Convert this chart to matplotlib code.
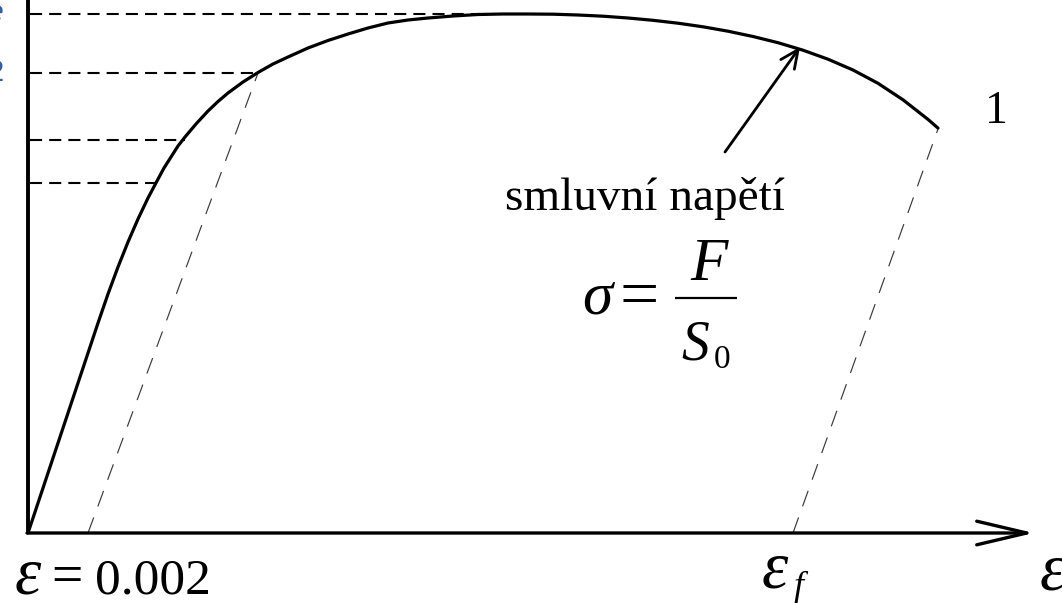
import matplotlib
matplotlib.use("Agg")
import matplotlib.pyplot as plt

# Engineering stress-strain curve (schematic units: strain along x, stress along y)
strain = [0, 35, 70, 80, 90, 100, 110, 120, 129, 136, 143, 150, 157, 168, 180,
          190, 200, 215, 230, 245, 260, 280, 300, 320, 340, 360, 380, 400, 425,
          450, 475, 500, 525, 550, 575, 600, 625, 650, 675, 700, 725, 750, 775,
          800, 825, 850, 875, 900, 910]
stress = [0, 105, 210, 239, 266, 291, 314, 335, 352, 365, 376, 387, 396, 409, 422,
          431.5, 440, 451, 460.5, 469, 476, 485, 492.5, 499, 505, 510, 513, 515, 517,
          518.5, 519, 519, 518.8, 518, 516.8, 515, 512.7, 509.8, 506.2, 501.8, 496.5,
          490.3, 482.8, 473.8, 463, 449.7, 433.2, 413.6, 404.9]

# Elastic unloading lines: offset yield (eps = 0.002) and fracture (eps_f)
offset_x = [60, 230]
offset_y = [0, 460]
fracture_x = [765, 910]
fracture_y = [0, 404]

# Reference stress levels projected to the stress axis
level_y = [519.5, 460, 393, 350]
level_end = [452, 230, 157, 129]

serif = "Liberation Serif"

fig = plt.figure(figsize=(10.62, 6.03), dpi=100)
ax = fig.add_axes([0, 0, 1, 1])
ax.set_xlim(-28, 1034)
ax.set_ylim(-70, 533)
ax.axis("off")

# axes
ax.plot([0, 0], [-1, 540], color="black", lw=2.8, solid_capstyle="butt", clip_on=False)
ax.annotate("", xy=(1006, 0), xytext=(-1, 0),
            arrowprops=dict(arrowstyle="->,head_length=3.6,head_width=0.85",
                            mutation_scale=10, lw=2.4, color="black",
                            shrinkA=0, shrinkB=0))

# horizontal dashed reference levels
for y, xe in zip(level_y, level_end):
    ax.plot([2, xe], [y, y], color="black", lw=1.5, linestyle=(0, (5.8, 3.4)))

# unloading lines
ax.plot(offset_x, offset_y, color="#3a3a3a", lw=0.85, linestyle=(0, (14, 10)))
ax.plot(fracture_x, fracture_y, color="#3a3a3a", lw=0.85, linestyle=(0, (14, 10)))

# the curve
ax.plot(strain, stress, color="black", lw=2.3, solid_capstyle="round",
        solid_joinstyle="round")

# pointer to the curve
ax.annotate("", xy=(772, 486), xytext=(697, 381),
            arrowprops=dict(arrowstyle="->,head_length=1.3,head_width=0.6",
                            mutation_scale=10, lw=2.0, color="black",
                            shrinkA=0, shrinkB=0))

# labels
ax.text(968, 410, "1", fontfamily=serif, fontsize=33, ha="center", va="baseline")
ax.text(477, 323, "smluvní napětí", fontfamily=serif, fontsize=34,
        ha="left", va="baseline")

# sigma = F / S0
ax.text(569, 220, "σ", fontfamily=serif, fontstyle="italic", fontsize=44,
        ha="center", va="baseline")
ax.text(611, 216, "=", fontfamily=serif, fontsize=50, ha="center", va="baseline")
ax.plot([647, 709], [235, 235], color="black", lw=1.6, solid_capstyle="butt")
ax.text(681, 253, "F", fontfamily=serif, fontstyle="italic", fontsize=44,
        ha="center", va="baseline")
ax.text(667, 173, "S", fontfamily=serif, fontstyle="italic", fontsize=40,
        ha="center", va="baseline")
ax.text(694, 165, "0", fontfamily=serif, fontsize=24, ha="center", va="baseline")

# strain axis labels
ax.text(-13, -60, "ε", fontfamily=serif, fontstyle="italic", fontsize=48,
        ha="left", va="baseline")
ax.text(39, -60, "=", fontfamily=serif, fontsize=40, ha="center", va="baseline")
ax.text(67, -60, "0.002", fontfamily=serif, fontsize=37, ha="left", va="baseline")

ax.text(734, -55, "ε", fontfamily=serif, fontstyle="italic", fontsize=48,
        ha="left", va="baseline")
ax.text(771, -63, "f", fontfamily=serif, fontstyle="italic", fontsize=26,
        ha="center", va="baseline")
ax.text(1012, -57, "ε", fontfamily=serif, fontstyle="italic", fontsize=48,
        ha="left", va="baseline", clip_on=False)

# stress labels on the left margin
ax.text(-24, 458, "R$_{p0,2}$", fontfamily=serif, fontsize=30, color="#2f5fa8",
        ha="right", va="baseline")
ax.text(-24, 518, "R$_{e}$", fontfamily=serif, fontsize=30, color="#2f5fa8",
        ha="right", va="baseline")

fig.savefig("out.png", dpi=100)
